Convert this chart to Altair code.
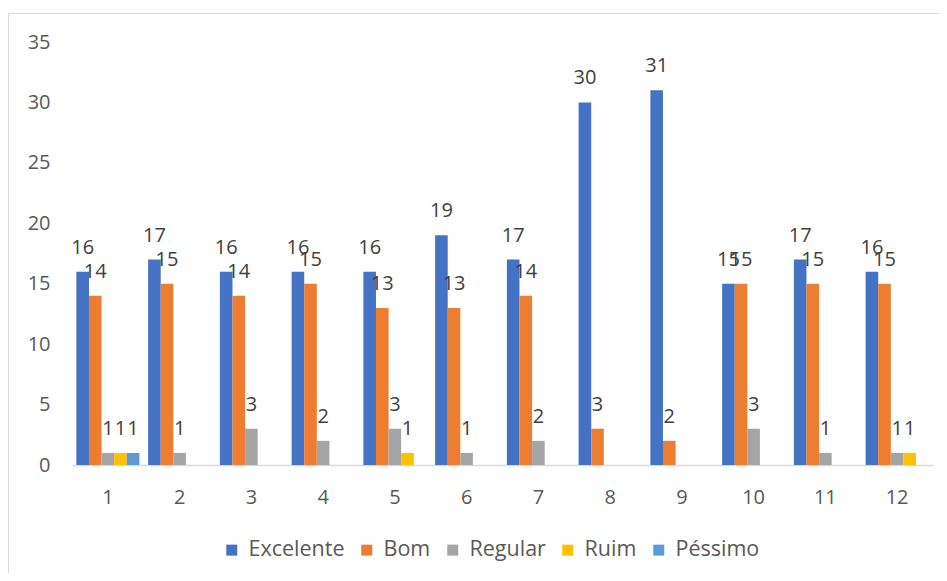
import altair as alt
import pandas as pd

groups = [str(i) for i in range(1, 13)]
series = ["Excelente", "Bom", "Regular", "Ruim", "Péssimo"]
excelente = [16, 17, 16, 16, 16, 19, 17, 30, 31, 15, 17, 16]
bom = [14, 15, 14, 15, 13, 13, 14, 3, 2, 15, 15, 15]
regular = [1, 1, 3, 2, 3, 1, 2, 0, 0, 3, 1, 1]
ruim = [1, 0, 0, 0, 1, 0, 0, 0, 0, 0, 0, 1]
pessimo = [1, 0, 0, 0, 0, 0, 0, 0, 0, 0, 0, 0]
colors = ["#4472C4", "#ED7D31", "#A5A5A5", "#FFC000", "#5B9BD5"]

rows = []
for s, vals in zip(series, [excelente, bom, regular, ruim, pessimo]):
    for g, v in zip(groups, vals):
        rows.append({"grupo": g, "serie": s, "valor": v})
df = pd.DataFrame(rows)

FONT = "Open Sans"

x_enc = alt.X(
    "grupo:N",
    sort=groups,
    scale=alt.Scale(paddingInner=0.122, paddingOuter=0.061),
    axis=alt.Axis(
        title=None, labelAngle=0, ticks=False, grid=False,
        domainColor="#D9D9D9", domainWidth=1.5,
        labelFont=FONT, labelFontSize=20, labelColor="#595959",
        labelPadding=22, labelBaseline="top",
    ),
)
xoff_enc = alt.XOffset(
    "serie:N", sort=series,
    scale=alt.Scale(domain=series, paddingInner=0, paddingOuter=0),
)
y_enc = alt.Y(
    "valor:Q",
    scale=alt.Scale(domain=[0, 35], nice=False),
    axis=alt.Axis(
        title=None, values=[0, 5, 10, 15, 20, 25, 30, 35],
        domain=False, ticks=False, grid=False,
        labelFont=FONT, labelFontSize=20, labelColor="#595959",
        labelPadding=22,
    ),
)

bars = alt.Chart(df).mark_bar().encode(
    x=x_enc,
    xOffset=xoff_enc,
    y=y_enc,
    color=alt.Color(
        "serie:N", sort=series,
        scale=alt.Scale(domain=series, range=colors),
        legend=alt.Legend(
            title=None, orient="none", direction="horizontal",
            legendX=149, legendY=497, padding=0,
            symbolType="square", symbolSize=121, symbolStrokeWidth=0,
            labelFont=FONT, labelFontSize=21.5, labelColor="#595959",
            labelOffset=6, columnPadding=11,
        ),
    ),
)

labels = alt.Chart(df).transform_filter(alt.datum.valor > 0).mark_text(
    font=FONT, fontSize=20, color="#404040", dy=-18,
    baseline="alphabetic", align="center",
).encode(
    x=alt.X("grupo:N", sort=groups),
    xOffset=alt.XOffset("serie:N", sort=series),
    y=alt.Y("valor:Q"),
    text=alt.Text("valor:Q"),
)

border = alt.Chart(alt.Data(values=[{}])).mark_rect(
    fill=None, stroke="#D9D9D9", strokeWidth=1,
).encode(
    x=alt.value(-63.5), x2=alt.value(900),
    y=alt.value(-28.5), y2=alt.value(600),
)

chart = alt.layer(border, bars, labels).properties(
    width=861, height=423,
    autosize=alt.AutoSizeParams(type="none"),
    padding={"left": 64, "top": 34, "right": 6, "bottom": 108},
    background="white",
).configure_view(stroke=None)

chart.save("out.html", embed_options={"renderer": "svg", "actions": False})
